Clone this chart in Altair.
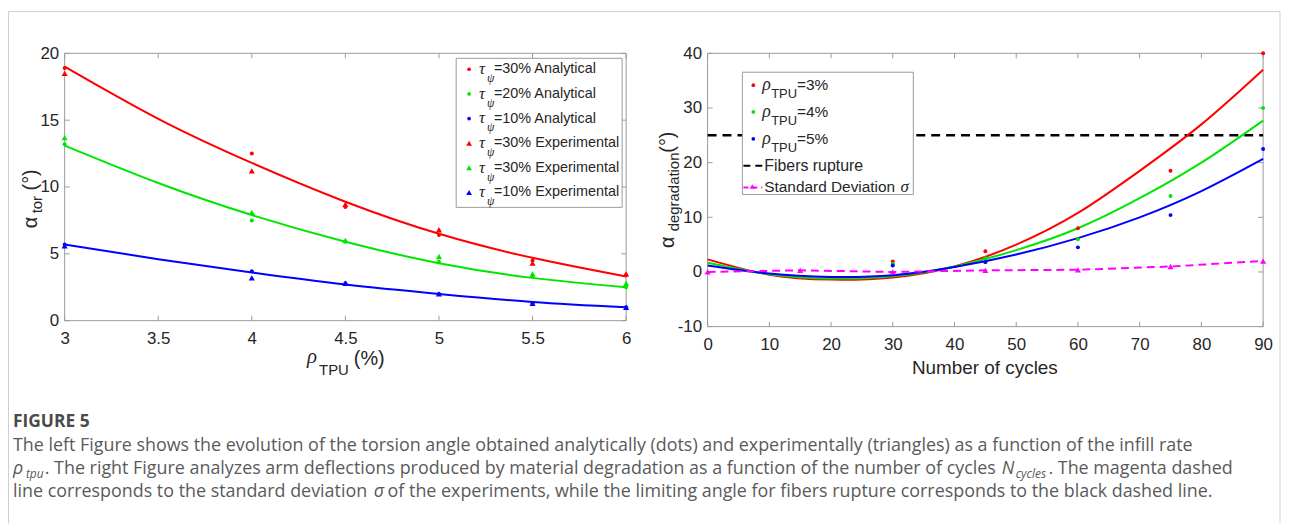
import altair as alt
import pandas as pd

# ---------------- left panel data ----------------
rho = [3.0, 4.0, 4.5, 5.0, 5.5, 6.0]
ana30 = [18.9, 12.5, 8.5, 6.4, 4.5, 3.4]
ana20 = [13.2, 7.5, 5.9, 4.4, 3.3, 2.5]
ana10 = [5.7, 3.7, 2.8, 2.0, 1.3, 1.0]
exp30 = [18.5, 11.2, 8.7, 6.8, 4.3, 3.5]
exp20 = [13.7, 8.1, 6.0, 4.8, 3.5, 2.8]
exp10 = [5.6, 3.2, 2.8, 2.0, 1.3, 1.0]
rho_fit = [3.0, 3.5, 4.0, 4.5, 5.0, 5.5, 6.0]
fit30 = [19.0, 15.1, 11.8, 8.9, 6.5, 4.7, 3.3]
fit20 = [13.1, 10.3, 7.9, 5.9, 4.3, 3.2, 2.5]
fit10 = [5.7, 4.6, 3.6, 2.7, 2.0, 1.4, 1.0]
left_xticks = [3, 3.5, 4, 4.5, 5, 5.5, 6]
left_yticks = [0, 5, 10, 15, 20]
left_legend_labels = ["=30% Analytical", "=20% Analytical", "=10% Analytical",
                      "=30% Experimental", "=30% Experimental", "=10% Experimental"]

# ---------------- right panel data ----------------
cyc_fit = [0, 10, 20, 30, 40, 50, 60, 70, 80, 90]
fit3 = [2.3, -0.5, -1.4, -1.0, 1.0, 5.0, 10.8, 18.5, 27.0, 37.0]
fit4 = [1.7, -0.4, -1.2, -0.8, 1.0, 4.0, 8.0, 13.5, 20.0, 27.7]
fit5 = [1.2, -0.3, -0.9, -0.6, 0.9, 3.2, 6.2, 10.0, 14.8, 20.7]
cyc_pts = [30, 45, 60, 75, 90]
pts3 = [1.9, 3.8, 8.0, 18.5, 40.0]
pts4 = [1.5, 2.5, 6.0, 13.9, 30.0]
pts5 = [1.2, 1.8, 4.5, 10.4, 22.5]
cyc_std = [0, 15, 30, 45, 60, 75, 90]
std_dev = [0.0, 0.3, 0.0, 0.3, 0.4, 1.0, 2.0]
rupture = 25
right_xticks = [0, 10, 20, 30, 40, 50, 60, 70, 80, 90]
right_yticks = [-10, 0, 10, 20, 30, 40]
right_legend_labels = ["=3%", "=4%", "=5%"]

caption_title = "FIGURE 5"
caption_l1 = ("The left Figure shows the evolution of the torsion angle obtained analytically "
              "(dots) and experimentally (triangles) as a function of the infill rate")
caption_l2 = ". The right Figure analyzes arm deflections produced by material degradation as a function of the number of cycles"
caption_l2_end = ". The magenta dashed"
caption_l3a = "line corresponds to the standard deviation"
caption_l3b = " of the experiments, while the limiting angle for fibers rupture corresponds to the black dashed line."

# ---------------- styling ----------------
RED, GREEN, BLUE, MAG = "#FF0000", "#00E600", "#0000FF", "#FF00FF"
AXC = "#262626"
BOXC = "#9a9a9a"
FONT = "Liberation Sans"
GFONT = "Liberation Serif"
CAPF = "Open Sans"
CAPC = "#5a5a5a"
CAPS = 18
W, H = 1282, 517
OFF = 8


def px(v):
    return v - OFF


one = pd.DataFrame({"k": [0]})
cscale = alt.Scale(domain=["r", "g", "b"], range=[RED, GREEN, BLUE])


def text(t, x, y, size, font=FONT, style="normal", color=AXC, align="left",
         baseline="alphabetic", angle=0, weight="normal"):
    kw = dict(text=t, fontSize=size, font=font, fontStyle=style, color=color,
              align=align, baseline=baseline, fontWeight=weight)
    if angle:
        kw["angle"] = angle
    return alt.Chart(one).mark_text(**kw).encode(x=alt.value(px(x)), y=alt.value(px(y)))


def axis(orient, offset, values):
    return alt.Axis(orient=orient, offset=offset, values=values, labelExpr="datum.value + ''",
                    domain=False, ticks=False, grid=False, labelFont=FONT, labelFontSize=17,
                    labelColor=AXC, labelFlush=False, labelOverlap=False,
                    labelPadding=10 if orient == "bottom" else 6, title=None)


def panel_frame(x0, x1, y0, y1, xs, ys, xa, ya, xt, yt):
    layers = []
    layers.append(alt.Chart(one).mark_rect(fill="white", fillOpacity=0, stroke=BOXC, strokeWidth=1).encode(
        x=alt.value(px(x0)), x2=alt.value(px(x1)), y=alt.value(px(y0)), y2=alt.value(px(y1))))
    dfx = pd.DataFrame({"v": xt})
    dfy = pd.DataFrame({"v": yt})
    for a, b in [(y1, y1 - 5), (y0, y0 + 5)]:
        layers.append(alt.Chart(dfx).mark_rule(color=BOXC, strokeWidth=1).encode(
            x=alt.X("v:Q", scale=xs, axis=xa), y=alt.value(px(a)), y2=alt.value(px(b))))
    for a, b in [(x0, x0 + 5), (x1, x1 - 5)]:
        layers.append(alt.Chart(dfy).mark_rule(color=BOXC, strokeWidth=1).encode(
            y=alt.Y("v:Q", scale=ys, axis=ya), x=alt.value(px(a)), x2=alt.value(px(b))))
    return layers


# ---------------- left panel ----------------
LX0, LX1, LY0, LY1 = 65, 630, 52, 321
LXs = alt.Scale(domain=[3, 6], range=[px(LX0), px(LX1)], nice=False, zero=False)
LYs = alt.Scale(domain=[0, 20], range=[px(LY1), px(LY0)], nice=False, zero=False)
LXa = axis("bottom", px(LY1) - H, left_xticks)
LYa = axis("left", -px(LX0), left_yticks)

fitL = pd.DataFrame({"x": rho_fit * 3, "y": fit30 + fit20 + fit10,
                     "s": ["r"] * 7 + ["g"] * 7 + ["b"] * 7})
anaL = pd.DataFrame({"x": rho * 3, "y": ana30 + ana20 + ana10, "s": ["r"] * 6 + ["g"] * 6 + ["b"] * 6})
expL = pd.DataFrame({"x": rho * 3, "y": exp30 + exp20 + exp10, "s": ["r"] * 6 + ["g"] * 6 + ["b"] * 6})

left_layers = panel_frame(LX0, LX1, LY0, LY1, LXs, LYs, LXa, LYa, left_xticks, left_yticks)
left_layers.append(alt.Chart(fitL).mark_line(interpolate="natural", strokeWidth=2).encode(
    x=alt.X("x:Q", scale=LXs, axis=LXa), y=alt.Y("y:Q", scale=LYs, axis=LYa),
    color=alt.Color("s:N", scale=cscale, legend=None), detail="s:N"))
left_layers.append(alt.Chart(expL).mark_point(shape="triangle-up", filled=True, size=38, opacity=1).encode(
    x=alt.X("x:Q", scale=LXs, axis=LXa), y=alt.Y("y:Q", scale=LYs, axis=LYa),
    color=alt.Color("s:N", scale=cscale, legend=None)))
left_layers.append(alt.Chart(anaL).mark_circle(size=16, opacity=1).encode(
    x=alt.X("x:Q", scale=LXs, axis=LXa), y=alt.Y("y:Q", scale=LYs, axis=LYa),
    color=alt.Color("s:N", scale=cscale, legend=None)))
left = alt.layer(*left_layers)

# ---------------- right panel ----------------
RX0, RX1, RY0, RY1 = 712, 1271, 52, 327
RXs = alt.Scale(domain=[0, 90], range=[px(RX0), px(RX1)], nice=False, zero=False)
RYs = alt.Scale(domain=[-10, 40], range=[px(RY1), px(RY0)], nice=False, zero=False)
RXa = axis("bottom", px(RY1) - H, right_xticks)
RYa = axis("left", -px(RX0), right_yticks)

fitR = pd.DataFrame({"x": cyc_fit * 3, "y": fit3 + fit4 + fit5,
                     "s": ["r"] * 10 + ["g"] * 10 + ["b"] * 10})
ptsR = pd.DataFrame({"x": cyc_pts * 3, "y": pts3 + pts4 + pts5,
                     "s": ["r"] * 5 + ["g"] * 5 + ["b"] * 5})
stdR = pd.DataFrame({"x": cyc_std, "y": std_dev})
rupR = pd.DataFrame({"y": [rupture]})

right_layers = panel_frame(RX0, RX1, RY0, RY1, RXs, RYs, RXa, RYa, right_xticks, right_yticks)
right_layers.append(alt.Chart(rupR).mark_rule(color="black", strokeWidth=2.5, strokeDash=[9, 6]).encode(
    y=alt.Y("y:Q", scale=RYs, axis=RYa), x=alt.value(px(RX0)), x2=alt.value(px(RX1))))
right_layers.append(alt.Chart(fitR).mark_line(interpolate="natural", strokeWidth=2).encode(
    x=alt.X("x:Q", scale=RXs, axis=RXa), y=alt.Y("y:Q", scale=RYs, axis=RYa),
    color=alt.Color("s:N", scale=cscale, legend=None), detail="s:N"))
right_layers.append(alt.Chart(ptsR).mark_circle(size=16, opacity=1).encode(
    x=alt.X("x:Q", scale=RXs, axis=RXa), y=alt.Y("y:Q", scale=RYs, axis=RYa),
    color=alt.Color("s:N", scale=cscale, legend=None)))
right_layers.append(alt.Chart(stdR).mark_line(color=MAG, strokeWidth=2, strokeDash=[8, 5]).encode(
    x=alt.X("x:Q", scale=RXs, axis=RXa), y=alt.Y("y:Q", scale=RYs, axis=RYa)))
right_layers.append(alt.Chart(stdR).mark_point(shape="triangle-up", filled=True, size=38, color=MAG, opacity=1).encode(
    x=alt.X("x:Q", scale=RXs, axis=RXa), y=alt.Y("y:Q", scale=RYs, axis=RYa)))
right = alt.layer(*right_layers)

# ---------------- overlay: titles, legends, caption, frame ----------------
ov = []
# outer frame
ov.append(alt.Chart(one).mark_rule(color="#cfcfcf", strokeWidth=1).encode(
    x=alt.value(0.5), y=alt.value(px(10)), y2=alt.value(H)))
ov.append(alt.Chart(one).mark_rule(color="#cfcfcf", strokeWidth=1).encode(
    x=alt.value(px(1288)), y=alt.value(px(10)), y2=alt.value(H)))
ov.append(alt.Chart(one).mark_rule(color="#cfcfcf", strokeWidth=1).encode(
    y=alt.value(px(10)), x=alt.value(0.5), x2=alt.value(px(1288))))

# axis titles left
ov.append(text("α", 37, 228, 20, angle=270))
ov.append(text("tor", 42, 213, 15, angle=270))
ov.append(text("(°)", 37, 190, 20, angle=270))
ov.append(text("ρ", 309, 364, 21, font=GFONT, style="italic"))
ov.append(text("TPU", 321, 376, 15))
ov.append(text("(%)", 356, 366, 20))
# axis titles right
ov.append(text("α", 678, 248, 20, angle=270))
ov.append(text("degradation", 683, 231, 15, angle=270))
ov.append(text("(°)", 678, 152, 20, angle=270))
ov.append(text("Number of cycles", 991, 375, 19, align="center"))

# left legend
ov.append(alt.Chart(one).mark_rect(fill="white", stroke=BOXC, strokeWidth=1).encode(
    x=alt.value(px(459)), x2=alt.value(px(626)), y=alt.value(px(57)), y2=alt.value(px(207))))
ll = pd.DataFrame({
    "s": ["r", "g", "b", "r", "g", "b"],
    "label": left_legend_labels,
    "kind": ["dot", "dot", "dot", "tri", "tri", "tri"],
})
ll["yc"] = [px(68 + 24.8 * i) for i in range(6)]
ll["ys"] = ll["yc"] + 9
ov.append(alt.Chart(ll).transform_filter("datum.kind == 'dot'").mark_circle(size=14, opacity=1).encode(
    x=alt.value(px(472)), y=alt.Y("yc:Q", scale=None), color=alt.Color("s:N", scale=cscale, legend=None)))
ov.append(alt.Chart(ll).transform_filter("datum.kind == 'tri'").mark_point(shape="triangle-up", filled=True, size=34, opacity=1).encode(
    x=alt.value(px(472)), y=alt.Y("yc:Q", scale=None), color=alt.Color("s:N", scale=cscale, legend=None)))
ov.append(alt.Chart(ll).mark_text(text="τ", font=GFONT, fontStyle="italic", fontSize=17, align="left", baseline="middle", color=AXC).encode(
    x=alt.value(px(482)), y=alt.Y("yc:Q", scale=None)))
ov.append(alt.Chart(ll).mark_text(text="ψ", font=GFONT, fontStyle="italic", fontSize=12, align="left", baseline="middle", color=AXC).encode(
    x=alt.value(px(490)), y=alt.Y("ys:Q", scale=None)))
ov.append(alt.Chart(ll).mark_text(font=FONT, fontSize=14.5, align="left", baseline="middle", color=AXC).encode(
    x=alt.value(px(497)), y=alt.Y("yc:Q", scale=None), text="label:N"))

# right legend
ov.append(alt.Chart(one).mark_rect(fill="white", stroke=BOXC, strokeWidth=1).encode(
    x=alt.value(px(747)), x2=alt.value(px(919)), y=alt.value(px(71)), y2=alt.value(px(194))))
rl = pd.DataFrame({"s": ["r", "g", "b"], "label": right_legend_labels})
rl["yc"] = [px(84 + 27 * i) for i in range(3)]
rl["ys"] = rl["yc"] + 9
ov.append(alt.Chart(rl).mark_circle(size=14, opacity=1).encode(
    x=alt.value(px(758)), y=alt.Y("yc:Q", scale=None), color=alt.Color("s:N", scale=cscale, legend=None)))
ov.append(alt.Chart(rl).mark_text(text="ρ", font=GFONT, fontStyle="italic", fontSize=18, align="left", baseline="middle", color=AXC).encode(
    x=alt.value(px(767)), y=alt.Y("yc:Q", scale=None)))
ov.append(alt.Chart(rl).mark_text(text="TPU", font=FONT, fontSize=13, align="left", baseline="middle", color=AXC).encode(
    x=alt.value(px(776)), y=alt.Y("ys:Q", scale=None)))
ov.append(alt.Chart(rl).mark_text(font=FONT, fontSize=15.5, align="left", baseline="middle", color=AXC).encode(
    x=alt.value(px(802)), y=alt.Y("yc:Q", scale=None), text="label:N"))
ov.append(alt.Chart(one).mark_rule(color="black", strokeWidth=2, strokeDash=[7, 5]).encode(
    x=alt.value(px(748)), x2=alt.value(px(767)), y=alt.value(px(165))))
ov.append(text("Fibers rupture", 769, 165, 16, baseline="middle"))
ov.append(alt.Chart(one).mark_rule(color=MAG, strokeWidth=2, strokeDash=[5, 4]).encode(
    x=alt.value(px(748)), x2=alt.value(px(767)), y=alt.value(px(187))))
ov.append(alt.Chart(one).mark_point(shape="triangle-up", filled=True, size=30, color=MAG, opacity=1).encode(
    x=alt.value(px(757)), y=alt.value(px(186))))
ov.append(text("Standard Deviation", 769, 187, 15.5, baseline="middle"))
ov.append(text("σ", 906, 187, 17, font=GFONT, style="italic", baseline="middle"))

# caption
ov.append(text(caption_title, 13, 428, 17.5, font=CAPF, color="#4a4a4a", weight="bold"))
ov.append(text(caption_l1, 13, 452, CAPS, font=CAPF, color=CAPC))
ov.append(text("ρ", 13, 475, CAPS, font=CAPF, style="italic", color=CAPC))
ov.append(text("tpu", 26, 479, 12, font=CAPF, style="italic", color=CAPC))
ov.append(text(caption_l2, 45, 475, CAPS, font=CAPF, color=CAPC))
ov.append(text("N", 1008, 475, CAPS, font=CAPF, style="italic", color=CAPC))
ov.append(text("cycles", 1022, 479, 12, font=CAPF, style="italic", color=CAPC))
ov.append(text(caption_l2_end, 1055, 475, CAPS, font=CAPF, color=CAPC))
ov.append(text(caption_l3a, 13, 498, CAPS, font=CAPF, color=CAPC))
ov.append(text("σ", 376, 498, CAPS, font=CAPF, style="italic", color=CAPC))
ov.append(text(caption_l3b, 390, 498, CAPS, font=CAPF, color=CAPC))

overlay = alt.layer(*ov)

chart = alt.layer(left, right, overlay).resolve_scale(x="independent", y="independent").properties(
    width=W, height=H, autosize=alt.AutoSizeParams(type="none"), padding=0
).configure_view(stroke=None)

chart.save("out.html", embed_options={"renderer": "svg", "actions": False})
